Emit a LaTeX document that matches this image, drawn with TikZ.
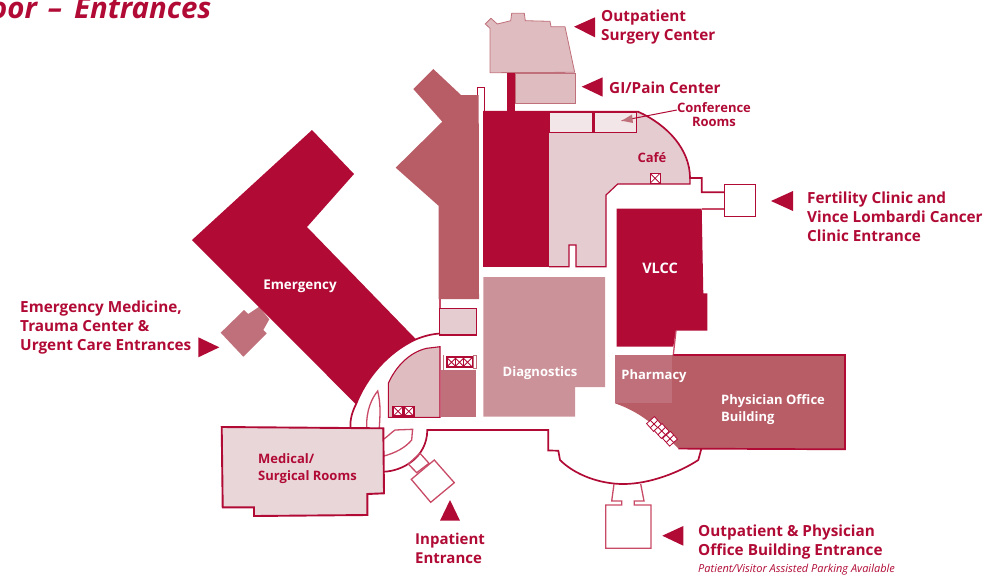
\documentclass[tikz,border=0pt]{standalone}
\usepackage{fontspec}
\setmainfont{Open Sans}
\definecolor{crim}{HTML}{B00A35}
\definecolor{mid}{HTML}{B85C66}
\definecolor{rose}{HTML}{C0707A}
\definecolor{diag}{HTML}{CC9299}
\definecolor{cafe}{HTML}{E4CCD0}
\definecolor{surg}{HTML}{DFBCC0}
\definecolor{med}{HTML}{E9D6D9}
\definecolor{conf}{HTML}{F2E6E8}
\definecolor{thin}{HTML}{C84A66}
\tikzset{
  wall/.style={draw=crim,line width=1.7pt,line join=miter},
  thinwall/.style={draw=thin,line width=1.3pt},
  lbl/.style={inner sep=0pt,text=crim,font=\fontsize{15.3}{19}\selectfont\bfseries,align=left,anchor=west},
  inlbl/.style={inner sep=0pt,text=white,font=\fontsize{13}{17}\selectfont\bfseries,align=left},
  inred/.style={inlbl,text=crim},
  tri/.style={fill=crim,draw=none},
  xcell/.style={draw=crim,fill=white,line width=.8pt,minimum width=#1,minimum height=#1,inner sep=0pt,path picture={
     \draw[crim,line width=.8pt] (path picture bounding box.north west)--(path picture bounding box.south east)
       (path picture bounding box.north east)--(path picture bounding box.south west);}},
  xcell/.default=10pt
}
\begin{document}
\begin{tikzpicture}[x=1pt,y=-1pt]
\useasboundingbox (0,0) rectangle (984,579);
% title
\node[inner sep=0pt,anchor=base west,text=crim,font=\fontsize{29.4}{29.4}\selectfont\bfseries\itshape] (title) at (-10,18) {oor\hspace{11pt}–\hspace{12pt}Entrances};
% surgery and GI
\fill[surg,draw=rose,line width=.8pt] (485.3,24)--(491,18.3)--(497.3,24)--(510.7,20.7)--(511.7,13.3)--(524.3,13.3)--(525.3,20.7)--(550,21.3)--(551,26.7)--(565,26.7)--(574.7,72.3)--(490,72.7)--(490,28.3)--cycle;
\fill[surg,draw=rose,line width=.8pt] (515,73)--(575.3,73)--(575.3,103.3)--(515,103.3)--cycle;
\fill[crim] (507,73) rectangle (515,112);
% medium wing
\fill[mid] (433.3,69)--(461,95)--(478.7,95)--(479,299)--(438.5,299)--(438.5,205.7)--(395.7,167.7)--(442.3,121.7)--(413.3,89)--cycle;
% corridor stub
\draw[wall,line width=1.3pt] (477.2,95)--(477.2,87.5)--(484.5,87.5)--(484.5,112);
% cafe wing
\fill[cafe] (549,112)--(638,112) .. controls (668,125) and (690,150) .. (690,184)--(617.7,184)--(606,195)--(606,266.7)--(576,266.7)--(576,245)--(569,245)--(569,266.7)--(549,266.7)--cycle;
\draw[wall] (483,111.7)--(638,111.7) .. controls (668,125) and (690,150) .. (690,178)--(701.7,178)--(701.7,192.3)--(724.3,192.3);
\draw[wall,line width=1.2pt] (690,178)--(690,184)--(617.7,184)--(606,195)--(606,266.7)--(576,266.7)--(576,245)--(569,245)--(569,266.7)--(549,266.7);
\fill[crim] (482.7,111.7) rectangle (549,267.3);
% conference rooms
\fill[conf,draw=crim,line width=1.5pt] (549,112.3) rectangle (592.3,132.7);
\fill[conf,draw=crim,line width=1.5pt] (594,112.3) rectangle (636.7,132.7);
\node[xcell] (cafelift) at (655,178.3) {};
% fertility box
\node[draw=crim,fill=white,line width=1.4pt,minimum width=31pt,minimum height=32pt,inner sep=0pt] (fertbox) at (739.8,200.2) {};
\draw[thinwall] (701.7,209)--(fertbox.west |- 0,209);
% VLCC
\fill[crim] (616.7,208.7)--(701.7,208.7)--(703.3,293.3)--(707.3,293.3)--(707.3,330.7)--(676,330.7)--(673.3,346.7)--(616.7,346.7)--cycle;
\draw[thinwall] (676,330.7)--(673.3,355);
% diagnostics
\fill[diag] (483.3,277)--(605,277)--(605,387)--(575,387)--(575,416.7)--(483.3,416.7)--cycle;
% small light box
\draw[thinwall] (440,299)--(440,308);
\fill[cafe,draw=crim,line width=1.4pt] (439.5,308.3) rectangle (476.7,335);
% physician office
\fill[mid] (615,355)--(845,355)--(845,449.3)--(678.3,448.3) .. controls (655,425) and (640,412) .. (615,403.3)--cycle;
\draw[wall] (673.3,355)--(845,355)--(845,449.3)--(678.3,448.6);
\fill[rose] (615,355) rectangle (671.7,403.3);
% lifts along the curve
\foreach \n/\px/\py in {a/654/424,b/661.7/431,c/670/438.7}
  \node[xcell=10.5pt,rotate=42] (curve\n) at (\px,\py) {};
% emergency
\fill[rose] (220.7,332.7)--(244,310)--(248.3,314)--(259.3,306.7)--(269.3,319.3)--(263.3,330)--(266.7,333.3)--(243.3,356.7)--cycle;
\fill[crim] (192,240)--(312,130)--(354,174)--(307,227)--(416,339.3) .. controls (388,352) and (366,378) .. (356,404.3)--cycle;
% rotunda
\draw[wall] (440,333.5) .. controls (432,334) and (424,336) .. (416,339.3) .. controls (388,352) and (366,378) .. (356,404.3) .. controls (352,412) and (350,420) .. (350.5,427);
% lobby
\fill[surg,draw=crim,line width=1.1pt] (440,346.7)--(440,417.3)--(388.3,417.3)--(388.3,383.3) .. controls (396,366) and (410,352) .. (426.7,348.3)--cycle;
\fill[crim] (392.3,405.7) rectangle (414.5,417);
\node[xcell=9pt] (la) at (398,411.3) {};
\node[xcell=9pt] (lb) at (408.8,411.3) {};
% rose block
\fill[rose] (440.7,370) rectangle (476,417.3);
\fill[crim] (446,356) rectangle (473,368.3);
\node[xcell=9pt] (ra) at (451.5,362.2) {};
\node[xcell=9pt] (rb) at (459.5,362.2) {};
\node[xcell=9pt] (rc) at (467.5,362.2) {};
\draw[draw=rose,line width=.8pt,fill=white] (473,355.5) rectangle (476.5,368.3);
\draw[draw=rose,line width=.8pt] (443.5,355) -- (443.5,376);
% curved details
\draw[thinwall] (366.7,428) .. controls (366,410) and (372,398) .. (377.7,391) .. controls (381,405) and (380,415) .. (379.3,428);
\draw[thinwall] (384,439) .. controls (388,436) and (392,432) .. (395,430)--(412.7,429.3) .. controls (412,434) and (412,437) .. (411.7,440) .. controls (405,448) and (395,453) .. (384,456);
% medical surgical
\fill[med,draw=crim,line width=1.9pt] (221.7,427)--(383.3,428.3)--(384,493.3)--(367.3,494)--(367.3,515)--(254,516)--(254,507.3)--(222.7,507.3)--cycle;
% front wall
\draw[wall] (384,471.7) .. controls (402,471) and (427,458) .. (427.3,430)--(548.3,430)--(548.3,450.5)--(558.3,450.7)--(560,460) .. controls (575,475) and (600,484) .. (623.3,484) .. controls (650,484) and (680,472) .. (698.3,460)--(701,450)--(701,448.6);
% inpatient entrance
\draw[thinwall] (408.3,464)--(420,453.3)--(429,463.3)--(416.7,472.7)--cycle;
\draw[thinwall,fill=white] (434.3,460)--(454.3,482.7)--(430.7,502.3)--(411.3,479.3)--cycle;
% outpatient entrance
\draw[thinwall] (614,484)--(611.7,501)--(621.7,501)--(621.7,505)--(605.7,505)--(605.7,548.3)--(651,548.3)--(651,505)--(634.3,505)--(634.3,501)--(644,501)--(640.7,484);
% triangles
\fill[tri] (574,26.7)--(595,17.3)--(595,37.3)--cycle;
\fill[tri] (581.7,86.7)--(602.7,77.3)--(602.7,96.7)--cycle;
\fill[tri] (771,201)--(793,191)--(793,211)--cycle;
\fill[tri] (662.3,535.7)--(683.3,526)--(683.3,545.7)--cycle;
\fill[tri] (219.3,347.3)--(198.3,337.3)--(198.3,357.3)--cycle;
\fill[tri] (450,500)--(440,520.7)--(460,520.7)--cycle;
% outer labels
\node[lbl] (surgery) at (601,27) {Outpatient\\Surgery Center};
\node[lbl] (gi) at (609,87.5) {GI/Pain Center};
\node[lbl] (fert) at (807,216.5) {Fertility Clinic and\\Vince Lombardi Cancer\\Clinic Entrance};
\node[lbl] (em) at (20,328) {Emergency Medicine,\\Trauma Center \&\\Urgent Care Entrances};
\node[lbl,font=\fontsize{15}{19}\selectfont\bfseries] (inp) at (415,548.5) {Inpatient\\Entrance};
\node[lbl] (outp) at (698,542.5) {Outpatient \& Physician\\Office Building Entrance};
\node[inner sep=0pt,anchor=west,text=crim,font=\fontsize{11}{13}\selectfont\itshape] (park) at (698,569.5) {Patient/Visitor Assisted Parking Available};
% conference label and pointer
\node[inred,font=\fontsize{13}{14}\selectfont\bfseries,align=center] (conflbl) at (714,115) {Conference\\Rooms};
\coordinate (confpt) at (621.7,120.7);
\draw[crim,line width=1pt] (conflbl.west |- 0,110)--(confpt);
\fill[rose] (confpt)--(632,114.5)--(633,123)--cycle;
% inner labels
\node[inred] (cafel) at (652,158) {Café};
\node[inlbl,font=\fontsize{13.4}{17}\selectfont\bfseries] (emerg) at (300,286.5) {Emergency};
\node[inlbl,font=\fontsize{14.5}{17}\selectfont\bfseries] (vlcc) at (660,268) {VLCC};
\node[inlbl] (diagl) at (540,373.5) {Diagnostics};
\node[inlbl] (phar) at (654,376) {Pharmacy};
\node[inlbl,anchor=west] (phys) at (721,409.5) {Physician Office\\Building};
\node[inred,anchor=west] (medl) at (258,469) {Medical/\\Surgical Rooms};
\end{tikzpicture}
\end{document}
